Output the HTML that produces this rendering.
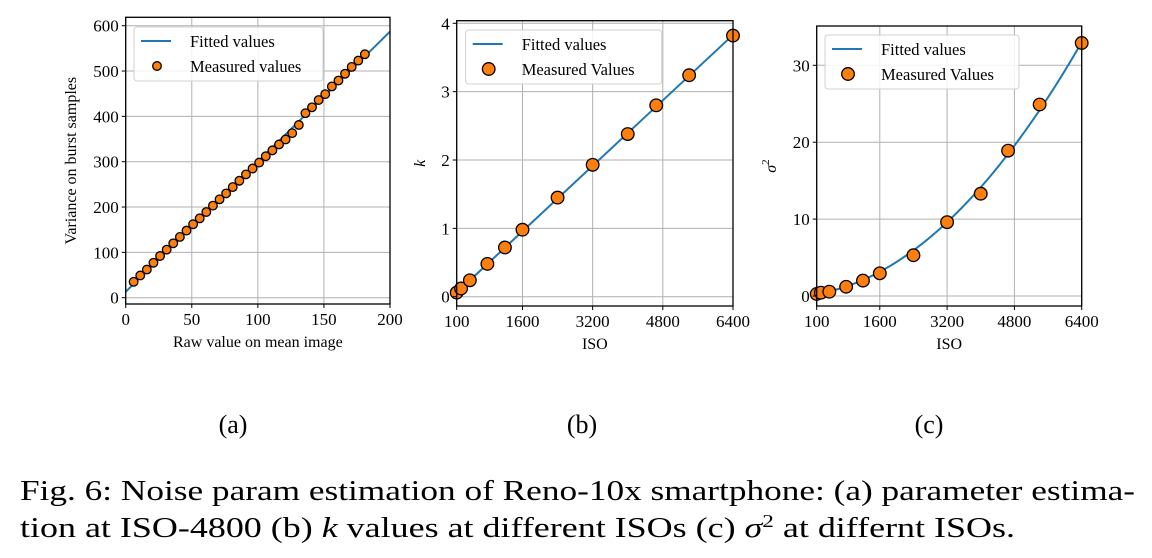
<!DOCTYPE html>
<html><head><meta charset="utf-8"><style>
body{margin:0;background:#fff;width:1152px;height:558px;overflow:hidden}
svg{display:block}
text{font-family:"Liberation Serif",serif;fill:#000}
</style></head><body>
<svg id="fig" width="1152" height="558" xmlns="http://www.w3.org/2000/svg">
<text x="233" y="433" font-size="26" text-anchor="middle">(a)</text>
<text x="582" y="433" font-size="26" text-anchor="middle">(b)</text>
<text x="929" y="433" font-size="26" text-anchor="middle">(c)</text>
<text x="20" y="500" font-size="28" textLength="1115" lengthAdjust="spacingAndGlyphs">Fig. 6: Noise param estimation of Reno-10x smartphone: (a) parameter estima-</text>
<text x="20" y="537" font-size="28" textLength="995" lengthAdjust="spacingAndGlyphs">tion at ISO-4800 (b) <tspan font-style="italic">k</tspan> values at different ISOs (c) <tspan font-style="italic">σ</tspan><tspan font-size="18" dy="-10">2</tspan><tspan dy="10"> at differnt ISOs.</tspan></text>
</svg>
<script>
// Panel (a)
const aX = [6,11,16,21,26,31,36,41,46,51,56,61,66,71,76,81,86,91,96,101,106,111,116,121,126,131,136,141,146,151,156,161,166,171,176,181];
const aY = [35,49,62,77,92,106,120,134,148,162,175,189,203,217,230,244,258,272,285,298,312,325,338,349,363,381,407,420,436,449,466,479,494,509,523,537];
const aFitX = [0,200];
const aFitY = [13,587];
const aXTicks = [0,50,100,150,200];
const aYTicks = [0,100,200,300,400,500,600];
// Panel (b)
const isoB = [100,200,400,800,1200,1600,2400,3200,4000,4650,5400,6400];
const kVals = [0.06,0.12,0.24,0.48,0.72,0.98,1.45,1.93,2.38,2.80,3.24,3.82];
const bFitX = [100,6400];
const bFitY = [0.06,3.83];
const isoTicks = [100,1600,3200,4800,6400];
const bYTicks = [0,1,2,3,4];
// Panel (c)
const isoC = [100,200,400,800,1200,1600,2400,3200,4000,4650,5400,6400];
const sigVals = [0.26,0.43,0.56,1.2,2.0,2.95,5.3,9.6,13.3,18.9,24.9,32.9];
const cFitCoef = [0.2,0.00075,6.836e-7];
const cYTicks = [0,10,20,30];

const svg = document.getElementById('fig');
const NS = 'http://www.w3.org/2000/svg';
function mk(tag, attrs, parent){const e=document.createElementNS(NS,tag);for(const k in attrs)e.setAttribute(k,attrs[k]);(parent||svg).appendChild(e);return e;}
function lin(d0,d1,r0,r1){return v=>r0+(v-d0)/(d1-d0)*(r1-r0);}

function panel(o){
  const g=mk('g',{});
  
  
  const {L,R,T,B,sx,sy}=o;
  o.xt.forEach(t=>{const l=mk('line',{x1:sx(t),x2:sx(t),y1:T,y2:B,stroke:'#b0b0b0','stroke-width':1},g);});
  o.yt.forEach(t=>{const l=mk('line',{x1:L,x2:R,y1:sy(t),y2:sy(t),stroke:'#b0b0b0','stroke-width':1},g);});
  const fl=mk('path',{d:o.fitPath,fill:'none',stroke:'#1f77b4','stroke-width':2,'clip-path':'url(#'+o.clip+')'},g);
  
  
  o.px.forEach((x,i)=>{const c=mk('circle',{cx:sx(x),cy:sy(o.py[i]),r:o.r,fill:'#ff7f0e',stroke:'#000','stroke-width':1.3},g);
    
    });
  const fr=mk('rect',{x:L,y:T,width:R-L,height:B-T,fill:'none',stroke:'#000','stroke-width':1.3},g);
  
  
  o.xt.forEach(t=>{mk('line',{x1:sx(t),x2:sx(t),y1:B,y2:B+4,stroke:'#000'},g);
    const tx=mk('text',{x:sx(t),y:B+21,'font-size':17,'text-anchor':'middle'},g);tx.textContent=t;
    
    });
  o.yt.forEach(t=>{mk('line',{x1:L-4,x2:L,y1:sy(t),y2:sy(t),stroke:'#000'},g);
    const tx=mk('text',{x:L-7,y:sy(t)+6,'font-size':17,'text-anchor':'end'},g);tx.textContent=t;
    
    });
  const xl=mk('text',{x:(L+R)/2,y:B+43,'font-size':16,'text-anchor':'middle'},g);xl.textContent=o.xlabel;
  
  
  const yl=mk('text',{x:0,y:0,'font-size':16,'text-anchor':'middle','font-style':o.yItalic?'italic':'normal',transform:`translate(${o.ylx},${(T+B)/2}) rotate(-90)`},g);
  if(o.ysup){yl.textContent=o.ylabel;const s=mk('tspan',{'font-size':11,dy:-7,'font-style':'normal'},yl);s.textContent=o.ysup;}else yl.textContent=o.ylabel;
  
  
  const lg=mk('g',{},g);
  
  
  const [lx,ly,lw,lh]=o.leg;
  mk('rect',{x:lx,y:ly,width:lw,height:lh,rx:3,fill:'#fff','fill-opacity':0.85,stroke:'#d0d0d0'},lg);
  mk('line',{x1:lx+7,x2:lx+37,y1:ly+14,y2:ly+14,stroke:'#1f77b4','stroke-width':2},lg);
  const t1=mk('text',{x:lx+56,y:ly+20,'font-size':16.5},lg);t1.textContent='Fitted values';
  
  
  mk('circle',{cx:lx+23,cy:ly+39,r:o.r,fill:'#ff7f0e',stroke:'#000','stroke-width':1.3},lg);
  const t2=mk('text',{x:lx+56,y:ly+45,'font-size':16.5},lg);t2.textContent=o.measLabel;
  
  
}
const defs=mk('defs',{});
function clip(id,L,T,R,B){const c=mk('clipPath',{id},defs);mk('rect',{x:L,y:T,width:R-L,height:B-T},c);}

{const L=125.7,R=390,T=17.3,B=304;clip('ca',L,T,R,B);
 const sx=lin(0,200,L,R),sy=lin(0,600,297.7,25.7);
 panel({name:'panel-a',L,R,T,B,sx,sy,xt:aXTicks,yt:aYTicks,px:aX,py:aY,r:4.3,clip:'ca',
  fitPath:'M'+aFitX.map((x,i)=>sx(x)+','+sy(aFitY[i])).join('L'),
  xlabel:'Raw value on mean image',ylabel:'Variance on burst samples',ylx:76,leg:[134,27,189,54],measLabel:'Measured values'});}
{const L=456.7,R=733,T=20.7,B=306;clip('cb',L,T,R,B);
 const sx=lin(100,6400,L,R),sy=lin(0,4,296.7,23.3);
 panel({name:'panel-b',L,R,T,B,sx,sy,xt:isoTicks,yt:bYTicks,px:isoB,py:kVals,r:6.3,clip:'cb',
  fitPath:'M'+bFitX.map((x,i)=>sx(x)+','+sy(bFitY[i])).join('L'),
  xlabel:'ISO',ylabel:'k',yItalic:true,ylx:425,leg:[465.7,30,196,54],measLabel:'Measured Values'});}
{const L=816.7,R=1081.7,T=26,B=306;clip('cc',L,T,R,B);
 const sx=lin(100,6400,L,R),sy=lin(0,30,296,65.3);
 let d='';for(let iso=100;iso<=6400;iso+=50){const v=cFitCoef[0]+cFitCoef[1]*iso+cFitCoef[2]*iso*iso;d+=(d?'L':'M')+sx(iso)+','+sy(v);}
 panel({name:'panel-c',L,R,T,B,sx,sy,xt:isoTicks,yt:cYTicks,px:isoC,py:sigVals,r:6.3,clip:'cc',
  fitPath:d,xlabel:'ISO',ylabel:'σ',ysup:'2',yItalic:true,ylx:776,leg:[825,35,194,54],measLabel:'Measured Values'});}
</script>
</body></html>
